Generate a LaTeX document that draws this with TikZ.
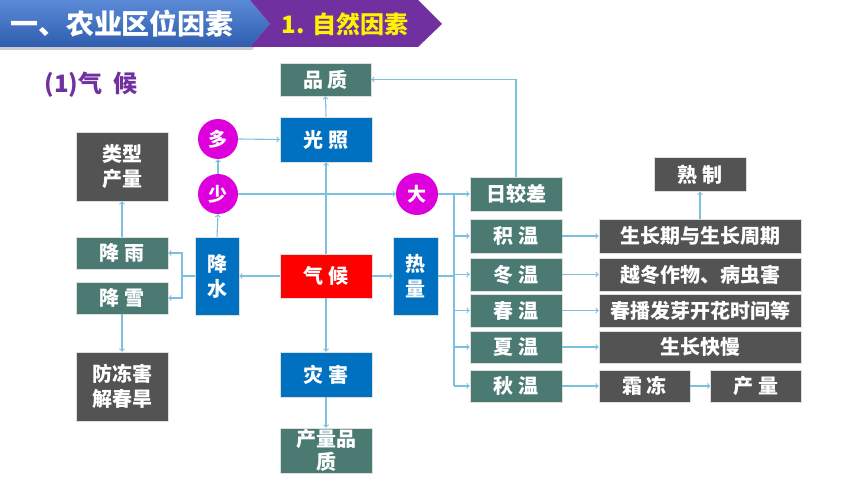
\documentclass[tikz,border=0pt]{standalone}
\usepackage{fontspec}
\setmainfont{Noto Sans CJK SC}
\usetikzlibrary{positioning}

\definecolor{boxteal}{HTML}{4A7A72}
\definecolor{boxgray}{HTML}{535353}
\definecolor{boxblue}{HTML}{0070C0}
\definecolor{boxred}{HTML}{FF0000}
\definecolor{dotpink}{HTML}{DD00DD}
\definecolor{linkblue}{HTML}{7DBFDE}
\definecolor{titlepurple}{HTML}{7030A0}
\definecolor{bannerlight}{HTML}{5A8AD6}
\definecolor{bannerdark}{HTML}{2F5DB0}

\begin{document}
\begin{tikzpicture}[x=1pt, y=-1pt, >=to,
    box/.style={rectangle, draw=white!75!gray, line width=0.6pt, text=white,
        font=\fontsize{20}{25}\selectfont\bfseries, inner sep=0pt,
        minimum width=92pt, minimum height=34pt, align=center},
    tbox/.style={box, fill=boxteal},
    gbox/.style={box, fill=boxgray},
    bbox/.style={box, fill=boxblue},
    rbox/.style={box, fill=boxred},
    dot/.style={circle, fill=dotpink, text=white, inner sep=0pt,
        minimum size=40pt, font=\fontsize{19}{22}\selectfont\bfseries},
    link/.style={draw=linkblue, line width=1.1pt}]
    \useasboundingbox (0,0) rectangle (860,484);

    % Banner
    \fill[black!20] (0,3) -- (252,3) -- (272,27) -- (252,50) -- (0,50) -- cycle;
    \shade[top color=bannerlight, bottom color=bannerdark]
        (0,0) -- (250,0) -- (270,24) -- (250,47) -- (0,47) -- cycle;
    \fill[titlepurple] (250,0) -- (418,0) -- (442,24) -- (418,47) -- (250,47) -- (270,24) -- cycle;
    \node [text=white, font=\fontsize{28}{30}\selectfont\bfseries] (title) at (122,24) {一、农业区位因素};
    \node [text=yellow, font=\fontsize{24}{26}\selectfont\bfseries] (sub) at (345,24) {1. 自然因素};
    \node [text=titlepurple, font=\fontsize{24}{26}\selectfont\bfseries] (qhtitle) at (91,85) {(1)气\ \ 候};

    % Nodes {middle column}
    \node [tbox, minimum width=91pt, minimum height=33pt] (pz) at (325.5,79.5) {品 质};
    \node [bbox, minimum height=45pt] (gz)   at (326,139.5) {光 照};
    \node [rbox, minimum height=44pt] (qh)   at (326,276)   {气 候};
    \node [bbox, minimum height=45pt] (zh)   at (326,374.5) {灾 害};
    \node [tbox, minimum height=45pt, font=\fontsize{20}{23}\selectfont\bfseries] (clpz) at (326,450.5) {产量品\\质};

    % Nodes {left column}
    \node [gbox, minimum height=69pt] (lx) at (122,166.5) {类型\\产量};
    \node [tbox, minimum height=32pt] (jy) at (122,253)   {降 雨};
    \node [tbox, minimum height=32pt] (jx) at (122,298)   {降 雪};
    \node [gbox, minimum height=69pt] (fd) at (122,386.5) {防冻害\\解春旱};
    \node [bbox, minimum width=44pt, minimum height=78pt] (js) at (217,276)   {降\\水};
    \node [bbox, minimum width=45pt, minimum height=78pt] (rl) at (415.5,276) {热\\量};

    % Nodes {circles}
    \node [dot] (duo)  at (218,139) {多};
    \node [dot] (shao) at (218,194) {少};
    \node [dot, minimum size=42pt] (da) at (417,194) {大};

    % Nodes {temperature column}
    \node [tbox] (rjc) at (516,194) {日较差};
    \node [tbox] (jw)  at (516,236) {积 温};
    \node [tbox, minimum height=33pt] (dw) at (516,274.5) {冬 温};
    \node [tbox, minimum height=33pt] (cw) at (516,310.5) {春 温};
    \node [tbox, minimum height=32pt] (xw) at (516,347)   {夏 温};
    \node [tbox, minimum height=32pt] (qw) at (516,386)   {秋 温};

    % Nodes {results}
    \node [gbox, minimum width=202pt] (szq) at (700,236) {生长期与生长周期};
    \node [gbox, minimum width=202pt, minimum height=33pt] (yd) at (700,274.5) {越冬作物、病虫害};
    \node [gbox, minimum width=202pt, minimum height=33pt] (cb) at (700,310.5) {春播发芽开花时间等};
    \node [gbox, minimum width=202pt, minimum height=32pt] (km) at (700,347)   {生长快慢};
    \node [gbox, minimum width=91pt, minimum height=32pt]  (sd) at (644.5,386) {霜 冻};
    \node [gbox, minimum width=91pt, minimum height=32pt]  (cl) [right=20pt of sd] {产 量};
    \node [gbox] (sz) [above=27pt of szq] {熟 制};

    \coordinate (lk) at (182,276);
    \coordinate (tk) at (454,194);

    % Paths
    \draw [link, ->] (qh.west)  -- (js.east);
    \draw [link, ->] (qh.east)  -- (rl.west);
    \draw [link, ->] (qh.north) -- (gz.south);
    \draw [link, ->] (gz.north) -- (pz.south);
    \draw [link, ->] (qh.south) -- (zh.north);
    \draw [link, ->] (zh.south) -- (clpz.north);
    \draw [link, ->] (js.north) -- (shao.south);
    \draw [link, ->] (shao.north) -- (duo.south);
    \draw [link, ->] (duo.east) -- (gz.west);
    \draw [link, ->] (shao.east) -- (da.west);
    \draw [link] (js.west) -- (lk);
    \draw [link, ->] (lk) |- (jy.east);
    \draw [link, ->] (lk) |- (jx.east);
    \draw [link, ->] (jy.north) -- (lx.south);
    \draw [link, ->] (jx.south) -- (fd.north);
    \draw [link] (da.east) -- (tk);
    \draw [link] (rl.east) -- (rl.east -| tk);
    \draw [link] (tk) -- (tk |- qw.west);
    \foreach \n in {rjc,jw,dw,cw,xw,qw}
        \draw [link, ->] (tk |- \n.west) -- (\n.west);
    \draw [link, ->] (rjc.north) |- (pz.east);
    \foreach \a/\b in {jw/szq,dw/yd,cw/cb,xw/km,qw/sd,sd/cl}
        \draw [link, ->] (\a.east) -- (\b.west);
    \draw [link, ->] (szq.north) -- (sz.south);
\end{tikzpicture}
\end{document}
